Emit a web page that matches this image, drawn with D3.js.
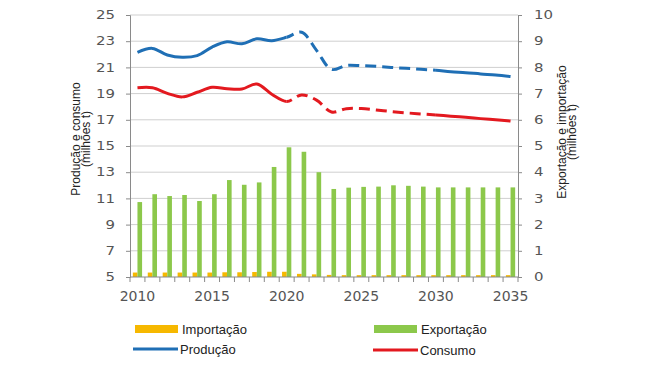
<!DOCTYPE html>
<html><head><meta charset="utf-8">
<script src="https://cdn.jsdelivr.net/npm/d3@7"></script>
<style>body{margin:0;background:#fff}svg{display:block}</style>
</head><body>
<svg id="c" width="650" height="366"></svg>
<script>
const years = d3.range(2010, 2036);
const producao = [22.15,22.45,21.95,21.77,21.9,22.55,22.95,22.8,23.18,23.04,23.3,23.68,22.3,20.85,21.15,21.13,21.08,21.0,20.93,20.85,20.78,20.67,20.6,20.5,20.42,20.3];
const consumo = [19.45,19.45,19.02,18.75,19.1,19.48,19.37,19.35,19.73,18.95,18.4,18.9,18.5,17.6,17.85,17.86,17.75,17.63,17.53,17.45,17.37,17.27,17.19,17.09,17.0,16.9];
const exportacao = [2.86,3.16,3.09,3.13,2.9,3.16,3.7,3.52,3.61,4.2,4.95,4.78,4.0,3.36,3.41,3.44,3.45,3.5,3.48,3.45,3.42,3.42,3.42,3.42,3.42,3.42];
const importacao = [0.17,0.17,0.17,0.17,0.17,0.17,0.18,0.18,0.19,0.2,0.2,0.12,0.1,0.08,0.07,0.07,0.07,0.07,0.07,0.07,0.07,0.07,0.07,0.07,0.07,0.07];
const leftTicks = [5,7,9,11,13,15,17,19,21,23,25];
const rightTicks = [0,1,2,3,4,5,6,7,8,9,10];
const xLabels = [2010,2015,2020,2025,2030,2035];

const svg = d3.select("#c");
const L = 130, R = 518, T = 15, B = 277;
const x = d3.scaleBand().domain(years).range([L, R]).paddingInner(0.38).paddingOuter(0.19);
const inner = d3.scaleBand().domain(["imp","exp"]).range([0, x.bandwidth()]).padding(0);
const yL = d3.scaleLinear().domain([5,25]).range([B, T]);
const yR = d3.scaleLinear().domain([0,10]).range([B, T]);
const cx = y => x(y) + x.bandwidth()/2;
const grey = "#8a8a8a";
const SX = 1.3;

// gridlines
svg.append("g").selectAll("line").data(leftTicks.slice(1)).join("line")
  .attr("x1", L).attr("x2", R).attr("y1", d=>yL(d)).attr("y2", d=>yL(d))
  .attr("stroke", "#cfcfcf").attr("stroke-width", 1);

// bars
svg.append("g").selectAll("rect").data(years).join("rect")
  .attr("x", (d)=>x(d)+inner("imp")).attr("width", inner.bandwidth())
  .attr("y", (d,i)=>yR(importacao[i])).attr("height", (d,i)=>yR(0)-yR(importacao[i]))
  .attr("fill", "#f6b800");
svg.append("g").selectAll("rect").data(years).join("rect")
  .attr("x", (d)=>x(d)+inner("exp")).attr("width", inner.bandwidth())
  .attr("y", (d,i)=>yR(exportacao[i])).attr("height", (d,i)=>yR(0)-yR(exportacao[i]))
  .attr("fill", "#8cc84b");

// axes
const axL = svg.append("g").attr("transform", `translate(${L},0)`)
  .call(d3.axisLeft(yL).tickValues(leftTicks).tickSize(4).tickPadding(11));
const axR = svg.append("g").attr("transform", `translate(${R},0)`)
  .call(d3.axisRight(yR).tickValues(rightTicks).tickSize(4).tickPadding(12));
const axX = svg.append("g").attr("transform", `translate(0,${B})`)
  .call(d3.axisBottom(x).tickValues(xLabels).tickSize(0).tickPadding(14));
// category boundary ticks
svg.append("g").selectAll("line").data(d3.range(years.length+1)).join("line")
  .attr("x1", i=>L + i*x.step()).attr("x2", i=>L + i*x.step())
  .attr("y1", B).attr("y2", B+5).attr("stroke", grey);
[axL, axR, axX].forEach(a=>{
  a.selectAll("path").attr("stroke", grey);
  a.selectAll("line").attr("stroke", grey);
  a.selectAll("text").attr("font-family", "DejaVu Sans").attr("font-size", 14).attr("fill", "#555");
});
[axL, axR].forEach(a=>{
  a.selectAll("text").attr("font-size", 11.5)
    .attr("x", function(){ return (+d3.select(this).attr("x"))/SX; })
    .attr("transform", `scale(${SX},1)`);
});
axX.select(".domain").attr("d", `M${L},0H${R}`);

// lines
const defs = svg.append("defs");
const clips = [["c1", L, cx(2020)], ["c2", cx(2020), cx(2030)], ["c3", cx(2030), R]];
clips.forEach(([id,a,b])=>defs.append("clipPath").attr("id", id)
  .append("rect").attr("x", a).attr("y", 0).attr("width", b-a).attr("height", 366));
const line = d3.line().x((d,i)=>cx(years[i])).y(d=>yL(d)).curve(d3.curveCatmullRom.alpha(0.5));
[[producao, "#1f6fb5"], [consumo, "#e3191f"]].forEach(([data, col])=>{
  clips.forEach(([id])=>{
    svg.append("path").attr("d", line(data)).attr("fill","none").attr("stroke", col)
      .attr("stroke-width", 3).attr("clip-path", `url(#${id})`)
      .attr("stroke-dasharray", id==="c2" ? "11,6" : null);
  });
});

// axis titles
function title(tx, ty, lines){
  const t = svg.append("text").attr("transform", `translate(${tx},${ty}) rotate(-90)`)
    .attr("text-anchor", "middle").attr("font-family", "Liberation Sans").attr("font-size", 12).attr("fill", "#222");
  t.append("tspan").attr("x", 0).attr("dy", 0).text(lines[0]);
  t.append("tspan").attr("x", 0).attr("dy", 9.5).text(lines[1]);
}
title(80, 139, ["Produção e consumo", "(milhões t)"]);
title(566, 132, ["Exportação e importação", "(milhões t)"]);

// legend
const leg = [
  {label:"Importação", type:"rect", col:"#f6b800", x:135, y:329},
  {label:"Exportação", type:"rect", col:"#8cc84b", x:374, y:329},
  {label:"Produção", type:"line", col:"#1f6fb5", x:133, y:349},
  {label:"Consumo", type:"line", col:"#e3191f", x:373, y:350}
];
const lg = svg.append("g");
leg.forEach(d=>{
  if (d.type==="rect") lg.append("rect").attr("x", d.x).attr("y", d.y-4).attr("width", 43).attr("height", 8).attr("fill", d.col);
  else lg.append("line").attr("x1", d.x).attr("x2", d.x+45).attr("y1", d.y).attr("y2", d.y).attr("stroke", d.col).attr("stroke-width", 3);
  lg.append("text").attr("x", d.x+47).attr("y", d.y+4.5).attr("font-family", "Liberation Sans")
    .attr("font-size", 13).attr("fill", "#222").text(d.label);
});
</script>
</body></html>
